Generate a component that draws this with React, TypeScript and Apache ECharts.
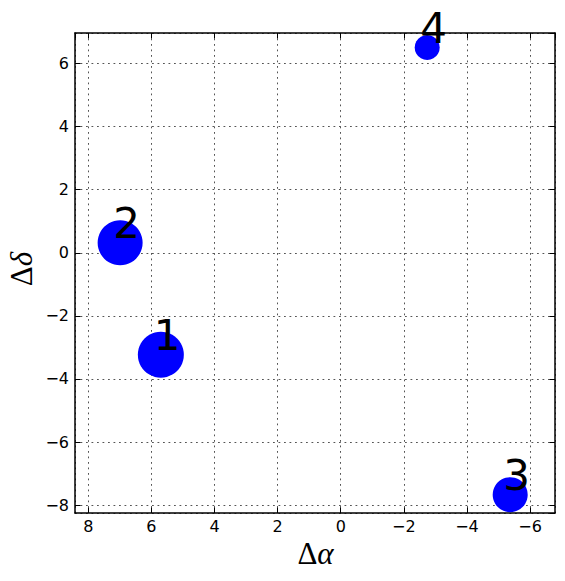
import React, { useEffect, useRef } from "react";
import * as echarts from "echarts";

// Data
const sourceLabels = ["1", "2", "3", "4"];
const deltaAlpha = [5.7, 6.99, -5.37, -2.74];
const deltaDelta = [-3.23, 0.32, -7.67, 6.51];
const bubbleSize = [46, 45, 35, 25];

const xRange = [-6.79, 8.42];
const yRange = [-8.25, 6.97];

const fmt = (v: number) => String(v).replace("-", "\u2212");

export default function App() {
  const ref = useRef<HTMLDivElement>(null);
  useEffect(() => {
    document.body.style.margin = "0";
    const chart = echarts.init(ref.current!, null, { renderer: "svg" });
    const tickFont = { fontFamily: "DejaVu Sans", fontSize: 16, color: "#000" };
    const baseX = {
      type: "value",
      min: xRange[0],
      max: xRange[1],
      inverse: true,
      splitNumber: 7,
    };
    const baseY = {
      type: "value",
      min: yRange[0],
      max: yRange[1],
      splitNumber: 7,
    };
    const axisLine = { show: true, onZero: false, lineStyle: { color: "#000", width: 1.5 } };
    const axisTick = { show: true, inside: true, length: 5.5, lineStyle: { color: "#000", width: 1 } };
    const splitLine = { show: true, lineStyle: { color: "#555", width: 1, type: [1.8, 3.7] } };
    chart.setOption({
      animation: false,
      backgroundColor: "#fff",
      grid: { left: 75, right: 10, top: 33, bottom: 68, containLabel: false },
      xAxis: [
        {
          ...baseX,
          position: "bottom",
          axisLine,
          axisTick,
          splitLine,
          axisLabel: { ...tickFont, margin: 5, formatter: fmt, showMinLabel: false, showMaxLabel: false },
        },
        {
          ...baseX,
          position: "top",
          axisLine,
          axisTick,
          splitLine: { show: false },
          axisLabel: { show: false },
        },
      ],
      yAxis: [
        {
          ...baseY,
          position: "left",
          axisLine,
          axisTick,
          splitLine,
          axisLabel: { ...tickFont, margin: 6, formatter: fmt, showMinLabel: false, showMaxLabel: false },
        },
        {
          ...baseY,
          position: "right",
          axisLine,
          axisTick,
          splitLine: { show: false },
          axisLabel: { show: false },
        },
      ],
      series: [
        {
          type: "scatter",
          xAxisIndex: 0,
          yAxisIndex: 0,
          clip: false,
          data: sourceLabels.map((n, i) => ({
            name: n,
            value: [deltaAlpha[i], deltaDelta[i]],
            symbolSize: bubbleSize[i],
          })),
          itemStyle: { color: "#0000ff", opacity: 1 },
          label: {
            show: true,
            position: "inside",
            align: "left",
            verticalAlign: "middle",
            offset: [-7, -19],
            formatter: (p: any) => p.name,
            fontFamily: "DejaVu Sans",
            fontSize: 42,
            color: "#000",
          },
          emphasis: { disabled: true },
          z: 5,
        },
      ],
      graphic: [
        {
          type: "text",
          x: 315.5,
          y: 553,
          style: {
            text: "{a|Δ}{b|α}",
            textAlign: "center",
            textVerticalAlign: "middle",
            rich: {
              a: { fontFamily: "Liberation Serif", fontSize: 31, fill: "#000" },
              b: { fontFamily: "Liberation Serif", fontSize: 31, fontStyle: "italic", fill: "#000" },
            },
          },
        },
        {
          type: "text",
          x: 21.5,
          y: 269,
          rotation: Math.PI / 2,
          style: {
            text: "{a|Δ}{b|δ}",
            textAlign: "center",
            textVerticalAlign: "middle",
            rich: {
              a: { fontFamily: "Liberation Serif", fontSize: 31, fill: "#000" },
              b: { fontFamily: "Liberation Serif", fontSize: 31, fontStyle: "italic", fill: "#000" },
            },
          },
        },
      ],
    });
    return () => chart.dispose();
  }, []);
  return <div ref={ref} style={{ width: 565, height: 581 }} />;
}
